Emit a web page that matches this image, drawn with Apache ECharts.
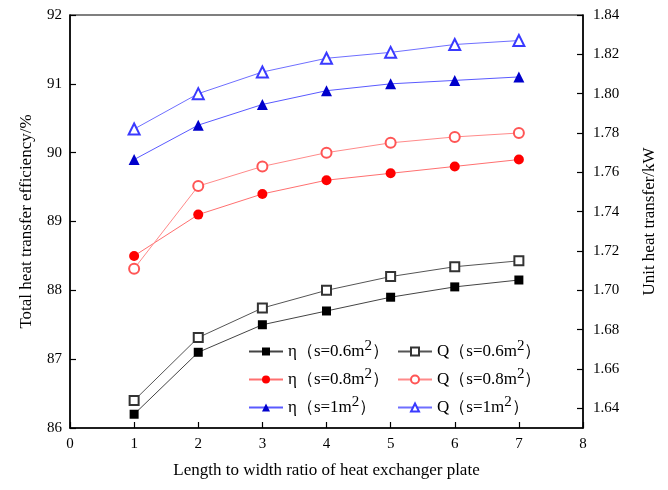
<!DOCTYPE html>
<html>
<head>
<meta charset="utf-8">
<script src="https://cdn.jsdelivr.net/npm/echarts@6/dist/echarts.min.js"></script>
<style>html,body{margin:0;padding:0;background:#fff}#c{width:668px;height:490px}</style>
</head>
<body>
<div id="c"></div>
<script>
var ratios = [1, 2, 3, 4, 5, 6, 7];
var eta06 = [86.2, 87.1, 87.5, 87.7, 87.9, 88.05, 88.15];
var q06 = [1.644, 1.676, 1.691, 1.700, 1.707, 1.712, 1.715];
var eta08 = [88.5, 89.1, 89.4, 89.6, 89.7, 89.8, 89.9];
var q08 = [1.711, 1.753, 1.763, 1.770, 1.775, 1.778, 1.780];
var eta10 = [89.9, 90.4, 90.7, 90.9, 91.0, 91.05, 91.1];
var q10 = [1.782, 1.800, 1.811, 1.818, 1.821, 1.825, 1.827];
var rightTicks = [1.64, 1.66, 1.68, 1.70, 1.72, 1.74, 1.76, 1.78, 1.80, 1.82, 1.84];

var names = {
  e06: 'η（s=0.6m2）', q06: 'Q（s=0.6m2）',
  e08: 'η（s=0.8m2）', q08: 'Q（s=0.8m2）',
  e10: 'η（s=1m2）', q10: 'Q（s=1m2）'
};
function pairs(ys) { return ratios.map(function (x, i) { return [x, ys[i]]; }); }
var FONT = 'Liberation Serif';
function mk(name, ys, yIdx, symbol, size, color, lineColor) {
  return {
    name: name, type: 'line', yAxisIndex: yIdx, data: pairs(ys),
    symbol: symbol, symbolSize: size,
    itemStyle: { color: color, borderWidth: 1 },
    lineStyle: { color: lineColor, width: 1 },
    z: 3
  };
}
var legendText = {
  fontFamily: FONT, fontSize: 17, color: '#000', padding: [0, 0, 0, 0],
  rich: {
    b: { fontFamily: FONT, fontSize: 17, color: '#000' },
    sup: { fontFamily: FONT, fontSize: 15, padding: [0, 0, 10, 0], color: '#000' }
  }
};
function fmt(n) { return n.replace(/m2/, 'm{sup|2}'); }

var chart = echarts.init(document.getElementById('c'), null, { renderer: 'canvas' });
chart.setOption({
  backgroundColor: '#fff',
  animation: false,
  grid: { left: 70, right: 85, top: 15, bottom: 62, show: true, borderColor: '#000', borderWidth: 1.2, backgroundColor: 'transparent' },
  legend: [
    { orient: 'vertical', left: 243, top: 334, itemGap: 7, itemWidth: 34, itemHeight: 10,
      data: [names.e06, names.e08, names.e10], textStyle: legendText, formatter: fmt },
    { orient: 'vertical', left: 392, top: 334, itemGap: 7, itemWidth: 34, itemHeight: 10,
      data: [names.q06, names.q08, names.q10], textStyle: legendText, formatter: fmt }
  ],
  xAxis: {
    type: 'value', min: 0, max: 8, interval: 1,
    name: 'Length to width ratio of heat exchanger plate', nameLocation: 'middle', nameGap: 34,
    nameTextStyle: { fontFamily: FONT, fontSize: 17, color: '#000' },
    axisLine: { lineStyle: { color: '#000', width: 1.5 } },
    axisTick: { inside: true, length: 6, lineStyle: { color: '#000', width: 1.2 } },
    axisLabel: { fontFamily: FONT, fontSize: 15, color: '#000', margin: 9 },
    splitLine: { show: false }
  },
  yAxis: [
    {
      type: 'value', min: 86, max: 92, interval: 1, position: 'left',
      name: 'Total heat transfer efficiency/%', nameLocation: 'middle', nameGap: 35, nameRotate: 90,
      nameTextStyle: { fontFamily: FONT, fontSize: 17, color: '#000' },
      axisLine: { show: true, lineStyle: { color: '#000', width: 1.5 } },
      axisTick: { show: true, inside: true, length: 6, lineStyle: { color: '#000', width: 1.2 } },
      axisLabel: { fontFamily: FONT, fontSize: 15, color: '#000', margin: 8 },
      splitLine: { show: false }
    },
    {
      type: 'value', min: 1.63, max: 1.84, position: 'right',
      name: 'Unit heat transfer/kW', nameLocation: 'middle', nameGap: 58, nameRotate: 90,
      nameTextStyle: { fontFamily: FONT, fontSize: 17, color: '#000' },
      axisLine: { show: true, lineStyle: { color: '#000', width: 1.5 } },
      axisTick: { show: true, inside: true, length: 6, customValues: rightTicks, lineStyle: { color: '#000', width: 1.2 } },
      axisLabel: { fontFamily: FONT, fontSize: 15, color: '#000', margin: 10, customValues: rightTicks,
        formatter: function (v) { return v.toFixed(2); } },
      splitLine: { show: false }
    }
  ],
  series: [
    mk(names.e06, eta06, 0, 'rect', 9, '#000', '#444'),
    mk(names.e08, eta08, 0, 'circle', 10, '#ff0000', '#ff7070'),
    mk(names.e10, eta10, 0, 'triangle', 11, '#0000cc', '#5a5aff'),
    mk(names.q06, q06, 1, 'emptyRect', 9, '#333', '#555'),
    mk(names.q08, q08, 1, 'emptyCircle', 10, '#ff5555', '#ff8a8a'),
    mk(names.q10, q10, 1, 'emptyTriangle', 11, '#3a3aff', '#6f6fff')
  ]
});
</script>
</body>
</html>
